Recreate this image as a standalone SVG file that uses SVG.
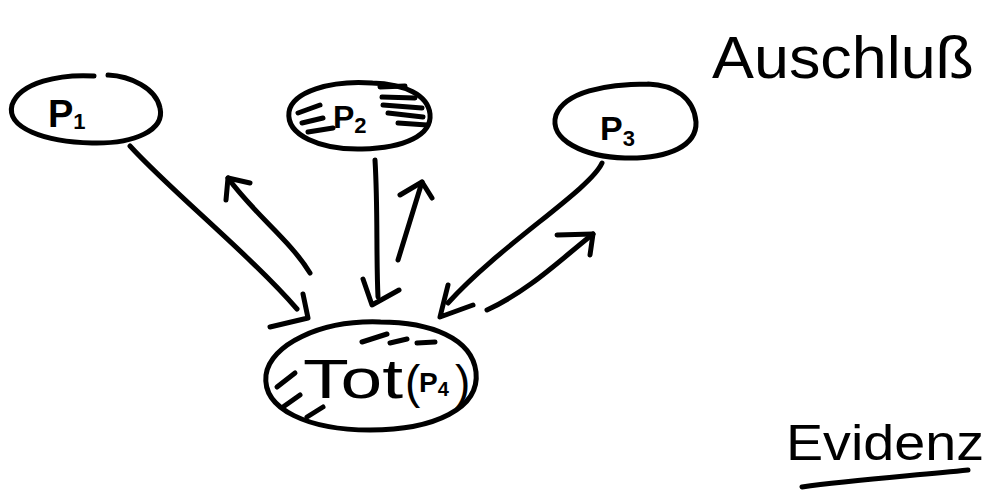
<svg xmlns="http://www.w3.org/2000/svg" width="1007" height="492" viewBox="0 0 1007 492">
<style>
.s{fill:none;stroke:#000;stroke-width:5;stroke-linecap:round;stroke-linejoin:round}
.t{font-family:"Liberation Sans","DejaVu Sans",sans-serif;fill:#000;font-weight:bold}
.n{font-family:"Liberation Sans","DejaVu Sans",sans-serif;fill:#000;font-weight:normal}
</style>
<rect width="1007" height="492" fill="#fff"/>
<g id="p1">
<path class="s" d="M94,76 C60,74 20,82 12,105 C6,128 45,142 92,143 C135,144 165,130 160,108 C156,88 130,76 108,75"/>
<text class="t" x="48" y="127" font-size="38">P<tspan font-size="22" dy="2">1</tspan></text>
</g>
<g id="p2">
<path class="s" d="M372,83 C330,80 292,92 289,112 C286,135 320,150 362,149 C405,148 432,135 430,114 C428,95 405,84 372,83"/>
<path class="s" d="M298,113 L320,105 M302,123 L323,118 M308,132 L333,128 M380,87 L405,86 M382,97 L415,98 M383,105 L422,108 M388,113 L423,117 M398,123 L427,125"/>
<text class="t" x="333" y="128" font-size="32">P<tspan font-size="22" dy="5">2</tspan></text>
</g>
<g id="p3">
<path class="s" d="M648,84 C605,84 565,92 556,115 C548,140 585,157 625,158 C670,159 697,145 696,122 C694,98 675,85 648,84"/>
<text class="t" x="600" y="140" font-size="34">P<tspan font-size="22" dy="6">3</tspan></text>
</g>
<g id="tot">
<path class="s" d="M380,322 C320,320 270,345 266,375 C262,410 310,430 370,430 C435,430 480,408 476,372 C472,338 430,322 380,322"/>
<path class="s" d="M362,342 L387,334 M390,343 L407,339 M417,343 L435,342 M277,387 L295,373 M283,407 L300,395 M307,417 L323,407"/>
<text class="n" x="303" y="398" font-size="56" textLength="100" lengthAdjust="spacingAndGlyphs">Tot</text>
<text class="n" x="405" y="398" font-size="46">(</text>
<text class="t" x="419" y="392" font-size="28">P<tspan font-size="20" dy="4">4</tspan></text>
<text class="n" x="455" y="398" font-size="46">)</text>
</g>
<g id="connectors">
<path class="s" d="M130,146 C170,190 250,255 297,309"/>
<path class="s" d="M303,294 L308,318 L270,327"/>
<path class="s" d="M310,273 C290,240 255,215 228,178"/>
<path class="s" d="M226,200 L228,178 L250,183"/>
<path class="s" d="M375,160 C378,210 376,255 378,297"/>
<path class="s" d="M363,279 L372,305 L399,290"/>
<path class="s" d="M398,260 L422,182"/>
<path class="s" d="M400,195 L422,182 L432,198"/>
<path class="s" d="M602,163 C590,190 500,245 448,303"/>
<path class="s" d="M448,285 L440,317 L473,305"/>
<path class="s" d="M487,310 C530,290 560,260 593,234"/>
<path class="s" d="M557,235 L593,234 L590,255"/>
</g>
<g id="auschluss">
<text class="n" x="712" y="78" font-size="60" textLength="262" lengthAdjust="spacingAndGlyphs">Auschluß</text>
</g>
<g id="evidenz">
<text class="n" x="786" y="460" font-size="50" textLength="198" lengthAdjust="spacingAndGlyphs">Evidenz</text>
<path class="s" d="M802,487 C850,480 910,476 968,470"/>
</g>
</svg>
